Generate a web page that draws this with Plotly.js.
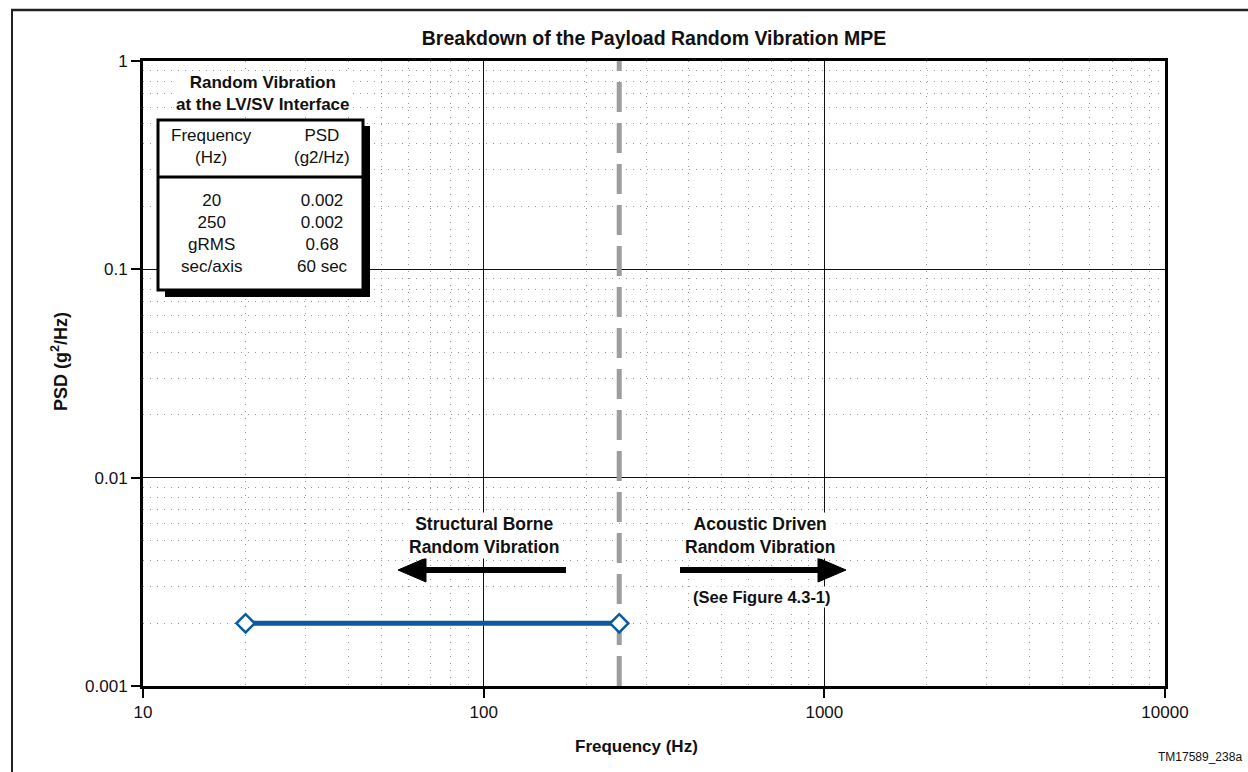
<!DOCTYPE html>
<html>
<head>
<meta charset="utf-8">
<script src="https://cdn.plot.ly/plotly-3.0.1.min.js"></script>
<style>
html,body{margin:0;padding:0;background:#fff;}
#chart{width:1248px;height:772px;}
</style>
</head>
<body>
<div id="chart"></div>
<script>
// ---- data ----
var freqHz = [20, 250];
var psd = [0.002, 0.002];
var boundaryFreq = 250;
var xTickVals = [10, 100, 1000, 10000];
var xTickText = ['10', '100', '1000', '10000'];
var yTickVals = [0.001, 0.01, 0.1, 1];
var yTickText = ['0.001', '0.01', '0.1', '1'];
var tableHeader = [['Frequency', '(Hz)'], ['PSD', '(g2/Hz)']];
var tableFreq = ['20', '250', 'gRMS', 'sec/axis'];
var tablePsd = ['0.002', '0.002', '0.68', '60 sec'];

function minorTicks(lo, hi) {
  var v = [];
  for (var d = lo; d < hi; d *= 10) for (var k = 2; k <= 9; k++) v.push(k * d);
  return v;
}

var FONT = '"Liberation Sans", Arial, sans-serif';

// plot geometry helpers (pixels -> paper)
var L = 143, R = 83, T = 61, B = 86, W = 1248, H = 772;
var pw = W - L - R, ph = H - T - B;
function px(x) { return (x - L) / pw; }
function py(y) { return (H - B - y) / ph; }

var traces = [
  {
    x: [boundaryFreq, boundaryFreq], y: [yTickVals[0], yTickVals[yTickVals.length - 1]],
    mode: 'lines', line: {color: '#9d9d9d', width: 5, dash: '30px,11px'},
    hoverinfo: 'skip', showlegend: false
  },
  {
    x: freqHz, y: psd, mode: 'lines+markers',
    line: {color: '#0d5b9c', width: 5},
    marker: {symbol: 'diamond', size: 14, color: '#ffffff', line: {color: '#0d5b9c', width: 2.5}},
    showlegend: false, cliponaxis: false
  }
];

function txt(x, y, text, size, extra) {
  return Object.assign({xref: 'paper', yref: 'paper', x: px(x), y: py(y), xanchor: 'center', yanchor: 'middle',
    text: text, showarrow: false, align: 'center', font: {family: FONT, size: size, color: '#111'}}, extra || {});
}

var annotations = [
  txt(263, 94, '<b>Random Vibration<br>at the LV/SV Interface</b>', 17, {bgcolor: '#ffffff'}),
  txt(211, 146, tableHeader[0].join('<br>'), 17),
  txt(322, 146, tableHeader[1].join('<br>'), 17),
  txt(211, 233, tableFreq.join('<br>'), 17),
  txt(322, 233, tablePsd.join('<br>'), 17),
  txt(484, 535, '<b>Structural Borne<br>Random Vibration</b>', 17.5, {bgcolor: '#ffffff'}),
  txt(760, 535, '<b>Acoustic Driven<br>Random Vibration</b>', 17.5, {bgcolor: '#ffffff'}),
  txt(762, 597, '<b>(See Figure 4.3-1)</b>', 16.5, {bgcolor: '#ffffff'}),
  txt(636, 746, '<b>Frequency (Hz)</b>', 17),
  txt(59, 362, '<b>PSD (g<sup>2</sup>/Hz)</b>', 18, {textangle: -90}),
  txt(1244, 757, 'TM17589_238a', 12, {xanchor: 'right'})
];

function P(x, y) { return px(x) + ',' + py(y); }

var shapes = [
  // outer frame (top and left)
  {type: 'line', xref: 'paper', yref: 'paper', x0: px(11), x1: px(1248), y0: py(10), y1: py(10), line: {color: '#222', width: 2.5}},
  {type: 'line', xref: 'paper', yref: 'paper', x0: px(12), x1: px(12), y0: py(10), y1: py(772), line: {color: '#222', width: 2}},
  // table shadow
  {type: 'rect', xref: 'paper', yref: 'paper', x0: px(165), x1: px(370), y0: py(126), y1: py(297),
    fillcolor: '#000', line: {width: 0}, layer: 'above'},
  // table box
  {type: 'rect', xref: 'paper', yref: 'paper', x0: px(158), x1: px(363), y0: py(120), y1: py(290),
    fillcolor: '#fff', line: {color: '#000', width: 3}, layer: 'above'},
  // divider
  {type: 'line', xref: 'paper', yref: 'paper', x0: px(158), x1: px(363), y0: py(177), y1: py(177),
    line: {color: '#000', width: 3}, layer: 'above'},
  // left arrow
  {type: 'line', xref: 'paper', yref: 'paper', x0: px(420), x1: px(566), y0: py(570), y1: py(570),
    line: {color: '#000', width: 6}, layer: 'above'},
  {type: 'path', xref: 'paper', yref: 'paper', path: 'M' + P(398, 570) + 'L' + P(426, 558) + 'L' + P(426, 582) + 'Z',
    fillcolor: '#000', line: {color: '#000', width: 1}, layer: 'above'},
  // right arrow
  {type: 'line', xref: 'paper', yref: 'paper', x0: px(680), x1: px(824), y0: py(570), y1: py(570),
    line: {color: '#000', width: 6}, layer: 'above'},
  {type: 'path', xref: 'paper', yref: 'paper', path: 'M' + P(846, 570) + 'L' + P(818, 558) + 'L' + P(818, 582) + 'Z',
    fillcolor: '#000', line: {color: '#000', width: 1}, layer: 'above'}
];

var axisCommon = {
  type: 'log', showline: true, linecolor: '#000', linewidth: 3, mirror: true,
  ticks: 'outside', ticklen: 9, tickwidth: 2, tickcolor: '#000',
  showgrid: true, gridcolor: '#111', gridwidth: 1.6, zeroline: false,
  tickfont: {family: FONT, size: 17, color: '#111'}
};

var minorCommon = {showgrid: true, gridcolor: '#999999', griddash: '1px,6px', gridwidth: 1, ticks: ''};

var layout = {
  width: W, height: H,
  margin: {l: L, r: R, t: T, b: B, pad: 0},
  paper_bgcolor: '#fff', plot_bgcolor: '#fff',
  title: {text: '<b>Breakdown of the Payload Random Vibration MPE</b>', xref: 'paper', x: px(654), xanchor: 'center',
    yref: 'container', y: 1 - 38 / H, yanchor: 'middle',
    font: {family: FONT, size: 19.5, color: '#111'}},
  xaxis: Object.assign({}, axisCommon, {
    range: [1, 4], tickmode: 'array', tickvals: xTickVals, ticktext: xTickText,
    minor: Object.assign({tickvals: minorTicks(10, 10000)}, minorCommon)
  }),
  yaxis: Object.assign({}, axisCommon, {
    range: [-3, 0], tickmode: 'array', tickvals: yTickVals, ticktext: yTickText,
    minor: Object.assign({tickvals: minorTicks(0.001, 1)}, minorCommon)
  }),
  annotations: annotations,
  shapes: shapes,
  showlegend: false
};

Plotly.newPlot('chart', traces, layout, {displayModeBar: false, staticPlot: true});
</script>
</body>
</html>
